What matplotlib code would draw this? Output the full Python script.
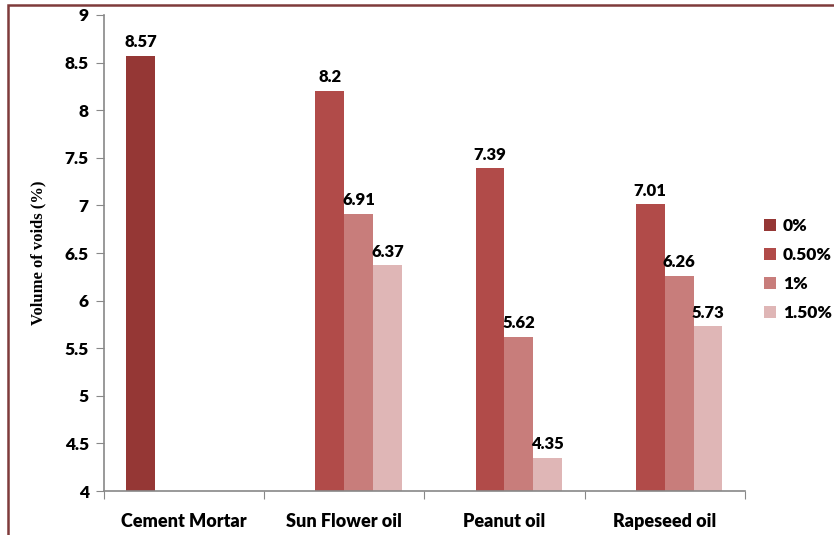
import numpy as np
import matplotlib
matplotlib.use("Agg")
import matplotlib.pyplot as plt
from matplotlib.patches import Rectangle

# data
categories = ["Cement Mortar", "Sun Flower oil", "Peanut oil", "Rapeseed oil"]
series_names = ["0%", "0.50%", "1%", "1.50%"]
vals_0 = [8.57, np.nan, np.nan, np.nan]
vals_050 = [np.nan, 8.2, 7.39, 7.01]
vals_1 = [np.nan, 6.91, 5.62, 6.26]
vals_150 = [np.nan, 6.37, 4.35, 5.73]
label_0 = ["8.57", "", "", ""]
label_050 = ["", "8.2", "7.39", "7.01"]
label_1 = ["", "6.91", "5.62", "6.26"]
label_150 = ["", "6.37", "4.35", "5.73"]
y_ticks = [4, 4.5, 5, 5.5, 6, 6.5, 7, 7.5, 8, 8.5, 9]
y_tick_labels = ["4", "4.5", "5", "5.5", "6", "6.5", "7", "7.5", "8", "8.5", "9"]

colors = ["#953735", "#B14B49", "#C87D7B", "#DFB6B6"]
sans = ["Lato", "DejaVu Sans"]

fig = plt.figure(figsize=(8.34, 5.35), dpi=100)
ax = fig.add_axes([0.1247, 0.0822, 0.893 - 0.1247, 0.972 - 0.0822])

# frame around the whole figure (cropped at right and bottom)
fig.patches.append(Rectangle((8 / 834, -0.05), 1.0, 1 - 5 / 535 + 0.05,
                             transform=fig.transFigure, fill=False,
                             edgecolor="#7F3B3B", linewidth=1.8))

x = np.arange(len(categories))
width = 0.18
all_vals = [vals_0, vals_050, vals_1, vals_150]
all_labels = [label_0, label_050, label_1, label_150]
for i, (vals, labs) in enumerate(zip(all_vals, all_labels)):
    pos = x + (i - 1.5) * width
    v = np.array(vals, dtype=float)
    ax.bar(pos, v - 4, width=width, bottom=4, color=colors[i],
           label=series_names[i], zorder=2)
    for p, val, lab in zip(pos, v, labs):
        if lab:
            ax.text(p, val + 0.06, lab, ha="center", va="bottom",
                    fontsize=12, fontweight="heavy", family=sans)

ax.set_ylim(4, 9)
ax.set_xlim(-0.5, 3.5)
ax.set_yticks(y_ticks)
ax.set_yticklabels(y_tick_labels, fontsize=12.5, fontweight="heavy", family=sans)
ax.set_xticks(np.arange(-0.5, 4.0, 1.0))
ax.set_xticklabels([])
ax.set_xticks(x, minor=True)
ax.set_xticklabels(categories, minor=True, fontsize=13, fontweight="heavy", family=sans)
ax.tick_params(axis="x", which="minor", length=0, pad=16)
ax.tick_params(axis="x", which="major", length=6, color="#888888", direction="out")
ax.tick_params(axis="y", length=6, color="#888888", direction="out", pad=5)

for side in ["top", "right"]:
    ax.spines[side].set_visible(False)
for side in ["left", "bottom"]:
    ax.spines[side].set_color("#888888")
    ax.spines[side].set_linewidth(1.2)

ax.set_ylabel("Volume of voids (%)", fontsize=12, fontweight="bold",
              family=["Liberation Serif", "DejaVu Serif"], labelpad=13)

leg = ax.legend(loc="center left", bbox_to_anchor=(1.005, 0.466), frameon=False,
                prop={"family": sans, "weight": "heavy", "size": 12.5},
                handlelength=0.7, handleheight=0.7, handletextpad=0.4,
                labelspacing=0.75)

fig.savefig("out.png", dpi=100)
